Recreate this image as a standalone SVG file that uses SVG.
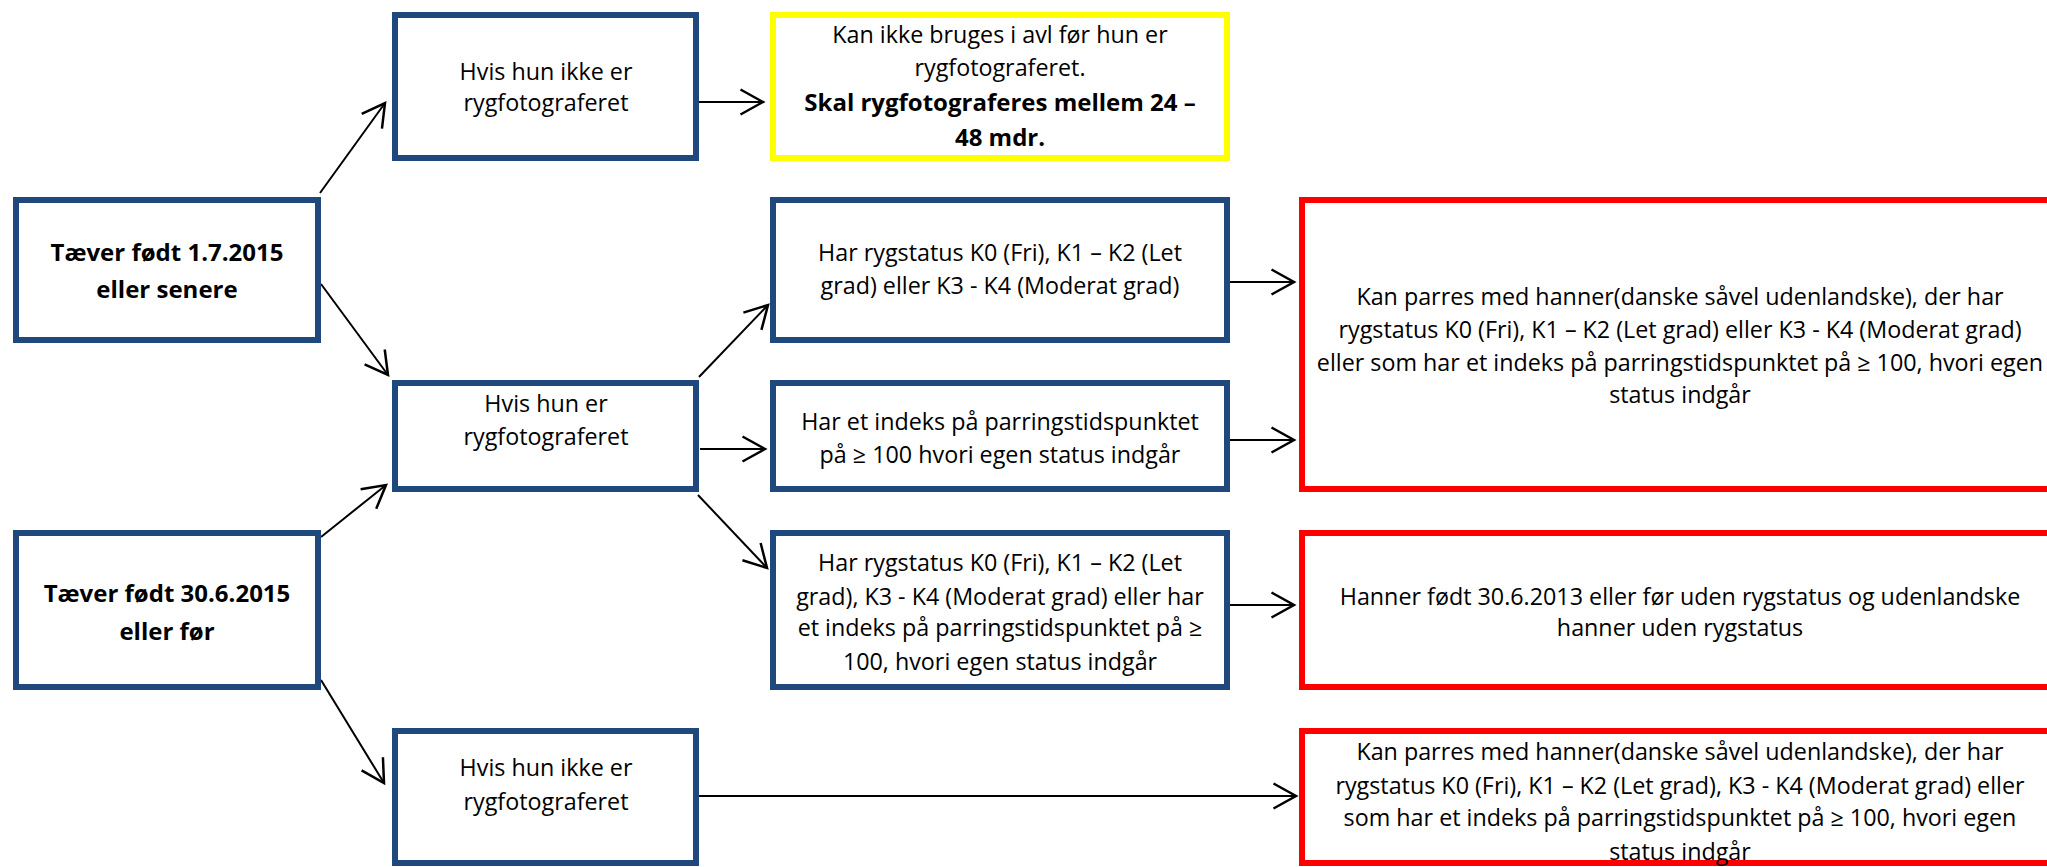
<svg xmlns="http://www.w3.org/2000/svg" width="2047" height="867" viewBox="0 0 2047 867">
<style>
.blue{fill:#fff;stroke:#1F497D;stroke-width:6}
.yel{fill:#fff;stroke:#FFFF00;stroke-width:6}
.red{fill:#fff;stroke:#FF0000;stroke-width:6}
text{font-family:"Open Sans","Liberation Sans",sans-serif;font-size:23.3px;fill:#000;text-anchor:middle}
.b{font-weight:bold;font-size:24px}
.c line{stroke:#000;stroke-width:2;marker-end:url(#ah)}
</style>
<defs>
<marker id="ah" markerUnits="userSpaceOnUse" markerWidth="30" markerHeight="30" viewBox="-20 -12 22 24" refX="0" refY="0" orient="auto">
<path d="M-18,-10 L0,0 L-18,10" fill="none" stroke="#000" stroke-width="2"/>
</marker>
</defs>
<rect width="2047" height="867" fill="#fff"/>
<g class="c" id="connectors">
<line x1="320" y1="193" x2="385" y2="103"/>
<line x1="321" y1="284" x2="388" y2="375"/>
<line x1="321" y1="537" x2="386" y2="485"/>
<line x1="321" y1="680" x2="384" y2="783"/>
<line x1="699" y1="102" x2="763" y2="102"/>
<line x1="699" y1="377" x2="768" y2="305"/>
<line x1="700" y1="449" x2="765" y2="449"/>
<line x1="698" y1="495" x2="767" y2="568"/>
<line x1="1230" y1="282" x2="1294" y2="282"/>
<line x1="1230" y1="440" x2="1294" y2="440"/>
<line x1="1230" y1="605" x2="1294" y2="605"/>
<line x1="699" y1="796" x2="1296" y2="796"/>
</g>
<g id="t1"><rect class="blue" x="16" y="200" width="302" height="140"/>
<text class="b" x="167" y="261">Tæver født 1.7.2015</text><text class="b" x="167" y="298">eller senere</text></g>
<g id="t2"><rect class="blue" x="16" y="533" width="302" height="154"/>
<text class="b" x="167" y="602">Tæver født 30.6.2015</text><text class="b" x="167" y="640">eller før</text></g>
<g id="a1"><rect class="blue" x="395" y="15" width="301" height="143"/>
<text x="546" y="80">Hvis hun ikke er</text><text x="546" y="111">rygfotograferet</text></g>
<g id="a2"><rect class="blue" x="395" y="383" width="301" height="106"/>
<text x="546" y="412">Hvis hun er</text><text x="546" y="445">rygfotograferet</text></g>
<g id="a3"><rect class="blue" x="395" y="731" width="301" height="132"/>
<text x="546" y="776">Hvis hun ikke er</text><text x="546" y="810">rygfotograferet</text></g>
<g id="y1"><rect class="yel" x="773" y="15" width="454" height="143"/>
<text x="1000" y="43">Kan ikke bruges i avl før hun er</text>
<text x="1000" y="76">rygfotograferet.</text>
<text class="b" x="1000" y="111">Skal rygfotograferes mellem 24 –</text>
<text class="b" x="1000" y="146">48 mdr.</text></g>
<g id="b1"><rect class="blue" x="773" y="200" width="454" height="140"/>
<text x="1000" y="261">Har rygstatus K0 (Fri), K1 – K2 (Let</text>
<text x="1000" y="294">grad) eller K3 - K4 (Moderat grad)</text></g>
<g id="b2"><rect class="blue" x="773" y="383" width="454" height="106"/>
<text x="1000" y="430">Har et indeks på parringstidspunktet</text>
<text x="1000" y="463">på ≥ 100 hvori egen status indgår</text></g>
<g id="b3"><rect class="blue" x="773" y="533" width="454" height="154"/>
<text x="1000" y="571">Har rygstatus K0 (Fri), K1 – K2 (Let</text>
<text x="1000" y="605">grad), K3 - K4 (Moderat grad) eller har</text>
<text x="1000" y="636">et indeks på parringstidspunktet på ≥</text>
<text x="1000" y="670">100, hvori egen status indgår</text></g>
<g id="r1"><rect class="red" x="1302" y="200" width="760" height="289"/>
<text x="1680" y="305">Kan parres med hanner(danske såvel udenlandske), der har</text>
<text x="1680" y="338">rygstatus K0 (Fri), K1 – K2 (Let grad) eller K3 - K4 (Moderat grad)</text>
<text x="1680" y="371">eller som har et indeks på parringstidspunktet på ≥ 100, hvori egen</text>
<text x="1680" y="403">status indgår</text></g>
<g id="r2"><rect class="red" x="1302" y="533" width="760" height="154"/>
<text x="1680" y="605">Hanner født 30.6.2013 eller før uden rygstatus og udenlandske</text>
<text x="1680" y="636">hanner uden rygstatus</text></g>
<g id="r3"><rect class="red" x="1302" y="731" width="760" height="132"/>
<text x="1680" y="760">Kan parres med hanner(danske såvel udenlandske), der har</text>
<text x="1680" y="794">rygstatus K0 (Fri), K1 – K2 (Let grad), K3 - K4 (Moderat grad) eller</text>
<text x="1680" y="826">som har et indeks på parringstidspunktet på ≥ 100, hvori egen</text>
<text x="1680" y="860">status indgår</text></g>
</svg>
